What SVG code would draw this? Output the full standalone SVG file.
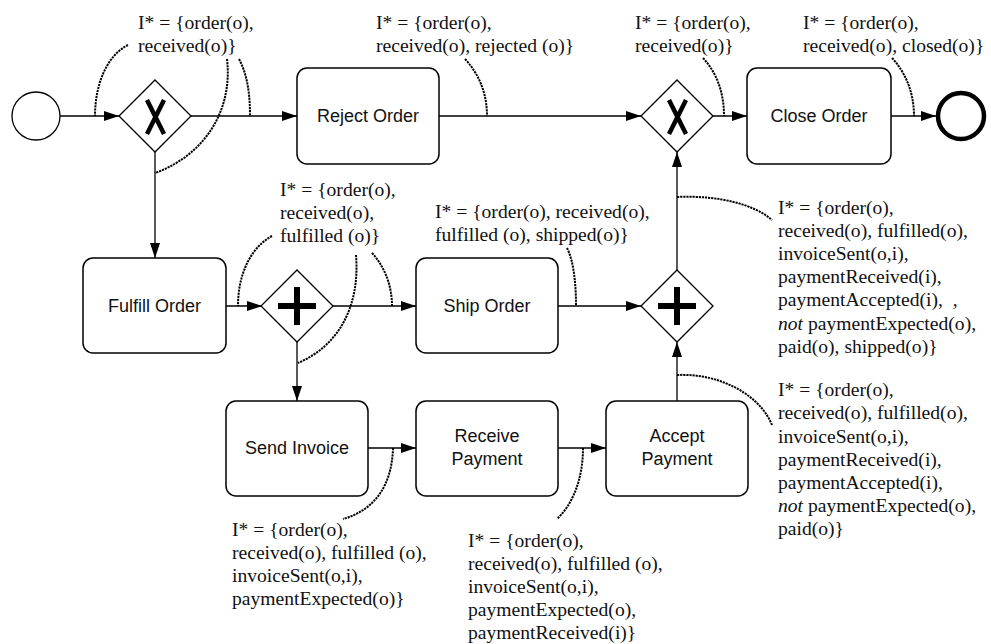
<svg xmlns="http://www.w3.org/2000/svg" width="991" height="644" viewBox="0 0 991 644">
  <style>
    .task { fill: #fff; stroke: #000; stroke-width: 1.5; }
    .gw { fill: #fff; stroke: #000; stroke-width: 1.3; }
    .mark { fill: none; stroke: #000; stroke-linecap: butt; }
    .flow { fill: none; stroke: #000; stroke-width: 1.3; marker-end: url(#arrow); }
    .assoc { fill: none; stroke: #000; stroke-width: 2; stroke-dasharray: 2.2 0.9; }
    .label { font-family: "Liberation Sans", Arial, sans-serif; font-size: 18px; fill: #111; text-anchor: middle; }
    .note { font-family: "Liberation Serif", "Times New Roman", serif; font-size: 19.6px; fill: #111; }
    .it { font-style: italic; }
  </style>
  <defs>
    <marker id="arrow" markerUnits="userSpaceOnUse" markerWidth="16" markerHeight="11" refX="15" refY="5" orient="auto">
      <path d="M0,0 L15,5 L0,10 z" fill="#000"/>
    </marker>
  </defs>
  <rect width="991" height="644" fill="#fff"/>

  <!-- sequence flows -->
  <g id="connectors">
    <path class="flow" d="M60,116 L119,116"/>
    <path class="flow" d="M191,116 L297,116"/>
    <path class="flow" d="M439,116 L641,116"/>
    <path class="flow" d="M713,116 L747,116"/>
    <path class="flow" d="M891,116 L936,116"/>
    <path class="flow" d="M155,152 L155,258"/>
    <path class="flow" d="M226,306 L262,306"/>
    <path class="flow" d="M333,306 L416,306"/>
    <path class="flow" d="M558,306 L641,306"/>
    <path class="flow" d="M677,270 L677,152"/>
    <path class="flow" d="M297,342 L297,401"/>
    <path class="flow" d="M368,448 L416,448"/>
    <path class="flow" d="M558,448 L606,448"/>
    <path class="flow" d="M677,401 L677,342"/>
  </g>

  <!-- events -->
  <g id="start">
    <circle cx="36" cy="116" r="24" fill="#fff" stroke="#000" stroke-width="1.3"/>
  </g>
  <g id="end">
    <circle cx="961" cy="116" r="23" fill="#fff" stroke="#000" stroke-width="4.5"/>
  </g>

  <!-- gateways -->
  <g id="xor-split">
    <path class="gw" d="M155,80 L191,116 L155,152 L119,116 z"/>
    <path class="mark" stroke-width="4.5" d="M147,100 L164,134 M164,100 L147,134"/>
  </g>
  <g id="xor-join">
    <path class="gw" d="M677,80 L713,116 L677,152 L641,116 z"/>
    <path class="mark" stroke-width="4.5" d="M669,100 L686,134 M686,100 L669,134"/>
  </g>
  <g id="and-split">
    <path class="gw" d="M297,270 L333,306 L297,342 L261,306 z"/>
    <path class="mark" stroke-width="6" d="M278,306 L316,306 M297,287 L297,325"/>
  </g>
  <g id="and-join">
    <path class="gw" d="M677,270 L713,306 L677,342 L641,306 z"/>
    <path class="mark" stroke-width="6" d="M658,306 L696,306 M677,287 L677,325"/>
  </g>

  <!-- tasks -->
  <g id="reject-order">
    <rect class="task" x="297" y="68" width="142" height="96" rx="10"/>
    <text class="label" x="368" y="122">Reject Order</text>
  </g>
  <g id="close-order">
    <rect class="task" x="747" y="68" width="144" height="96" rx="10"/>
    <text class="label" x="819" y="122">Close Order</text>
  </g>
  <g id="fulfill-order">
    <rect class="task" x="83" y="258" width="143" height="95" rx="10"/>
    <text class="label" x="154.5" y="312">Fulfill Order</text>
  </g>
  <g id="ship-order">
    <rect class="task" x="416" y="258" width="142" height="95" rx="10"/>
    <text class="label" x="487" y="312">Ship Order</text>
  </g>
  <g id="send-invoice">
    <rect class="task" x="226" y="401" width="142" height="95" rx="10"/>
    <text class="label" x="297" y="454">Send Invoice</text>
  </g>
  <g id="receive-payment">
    <rect class="task" x="416" y="401" width="142" height="95" rx="10"/>
    <text class="label" x="487" y="442">Receive</text>
    <text class="label" x="487" y="465">Payment</text>
  </g>
  <g id="accept-payment">
    <rect class="task" x="606" y="401" width="142" height="95" rx="10"/>
    <text class="label" x="677" y="442">Accept</text>
    <text class="label" x="677" y="465">Payment</text>
  </g>

  <!-- state annotations and their dotted associations -->
  <g id="annotation-links">
    <path class="assoc" d="M128,45 C106,56 95,86 95,116"/>
    <path class="assoc" d="M227,59 C233,110 205,155 155,173"/>
    <path class="assoc" d="M239,59 C248,76 250,96 250,116"/>
    <path class="assoc" d="M465,59 C480,75 487,95 487,116"/>
    <path class="assoc" d="M703,58 C718,74 724,95 724,116"/>
    <path class="assoc" d="M892,58 C907,74 914,95 914,116"/>
    <path class="assoc" d="M272,236 C250,248 238,275 238,306"/>
    <path class="assoc" d="M356,255 C360,305 340,345 298,363"/>
    <path class="assoc" d="M372,253 C386,268 392,288 392,306"/>
    <path class="assoc" d="M567,248 C574,262 576,285 576,306"/>
    <path class="assoc" d="M677,197 C720,195 755,205 772,220"/>
    <path class="assoc" d="M677,375 C720,373 760,395 772,425"/>
    <path class="assoc" d="M393,448 C392,485 375,510 343,519"/>
    <path class="assoc" d="M583,448 C583,480 572,505 557,519"/>
  </g>

  <g id="note-start" class="note">
    <text x="138" y="29">I* = {order(o),</text>
    <text x="138" y="52">received(o)}</text>
  </g>
  <g id="note-reject" class="note">
    <text x="376" y="29">I* = {order(o),</text>
    <text x="376" y="52">received(o), rejected (o)}</text>
  </g>
  <g id="note-join" class="note">
    <text x="635" y="29">I* = {order(o),</text>
    <text x="635" y="52">received(o)}</text>
  </g>
  <g id="note-close" class="note">
    <text x="803" y="29">I* = {order(o),</text>
    <text x="803" y="52">received(o), closed(o)}</text>
  </g>
  <g id="note-fulfill" class="note">
    <text x="280" y="196">I* = {order(o),</text>
    <text x="280" y="219">received(o),</text>
    <text x="280" y="242">fulfilled (o)}</text>
  </g>
  <g id="note-ship" class="note">
    <text x="435" y="218">I* = {order(o), received(o),</text>
    <text x="435" y="241">fulfilled (o), shipped(o)}</text>
  </g>
  <g id="note-paid-shipped" class="note">
    <text x="778" y="214">I* = {order(o),</text>
    <text x="778" y="237">received(o), fulfilled(o),</text>
    <text x="778" y="260">invoiceSent(o,i),</text>
    <text x="778" y="283">paymentReceived(i),</text>
    <text x="778" y="306">paymentAccepted(i),&#160; ,</text>
    <text x="778" y="330"><tspan class="it">not</tspan> paymentExpected(o),</text>
    <text x="778" y="353">paid(o), shipped(o)}</text>
  </g>
  <g id="note-paid" class="note">
    <text x="778" y="396">I* = {order(o),</text>
    <text x="778" y="419">received(o), fulfilled(o),</text>
    <text x="778" y="443">invoiceSent(o,i),</text>
    <text x="778" y="466">paymentReceived(i),</text>
    <text x="778" y="489">paymentAccepted(i),</text>
    <text x="778" y="512"><tspan class="it">not</tspan> paymentExpected(o),</text>
    <text x="778" y="535">paid(o)}</text>
  </g>
  <g id="note-invoice" class="note">
    <text x="232" y="536">I* = {order(o),</text>
    <text x="232" y="559">received(o), fulfilled (o),</text>
    <text x="232" y="582">invoiceSent(o,i),</text>
    <text x="232" y="605">paymentExpected(o)}</text>
  </g>
  <g id="note-payment" class="note">
    <text x="468" y="547">I* = {order(o),</text>
    <text x="468" y="570">received(o), fulfilled (o),</text>
    <text x="468" y="593">invoiceSent(o,i),</text>
    <text x="468" y="616">paymentExpected(o),</text>
    <text x="468" y="639">paymentReceived(i)}</text>
  </g>
</svg>
